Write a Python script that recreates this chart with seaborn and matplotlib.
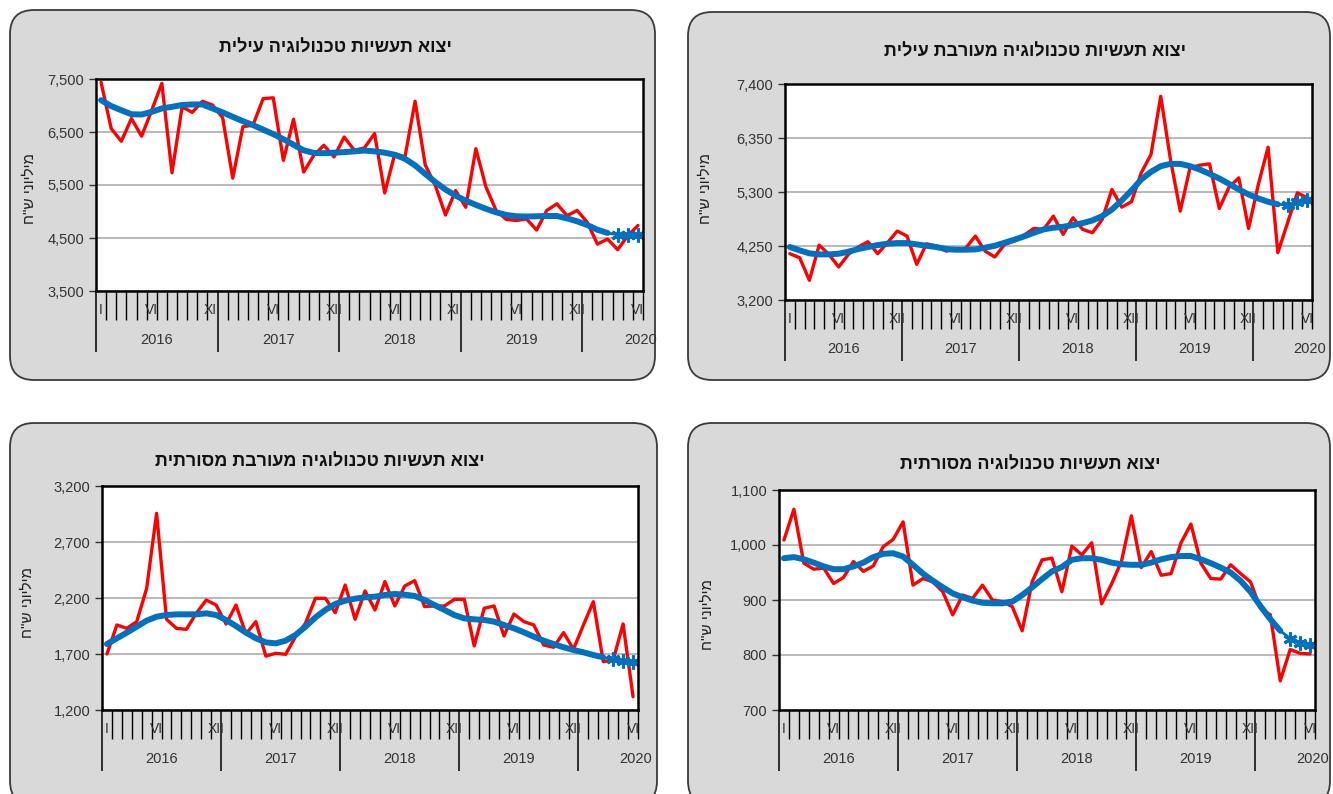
import numpy as np
import matplotlib
matplotlib.use("Agg")
import matplotlib.pyplot as plt
import seaborn as sns
from matplotlib.patches import FancyBboxPatch
from matplotlib.ticker import FuncFormatter

sns.set_style("white")
plt.rcParams['font.family'] = ['Liberation Sans', 'DejaVu Sans']

# ==========================================
# DATA (monthly, I-2016 .. VI-2020)
# ==========================================
months = np.arange(54)
year_labels = ['2016', '2017', '2018', '2019', '2020']
roman_pos = [0, 5, 11, 17, 23, 29, 35, 41, 47, 53]
roman_labels = ['I', 'VI', 'XII', 'VI', 'XII', 'VI', 'XII', 'VI', 'XII', 'VI']
ylabel_txt = 'מיליוני ש"ח'

# high tech
title_hi = 'יצוא תעשיות טכנולוגיה עילית'
hi_orig = [7437, 6565, 6325, 6755, 6420, 6910, 7418, 5730, 6975, 6870,
           7080, 7010, 6770, 5630, 6600, 6630, 7130, 7145, 5965, 6740,
           5745, 6060, 6250, 6030, 6405, 6155, 6200, 6470, 5350, 6090,
           6030, 7080, 5880, 5490, 4935, 5395, 5080, 6185, 5460, 5020,
           4850, 4830, 4860, 4650, 5020, 5145, 4920, 5020, 4795, 4385,
           4480, 4280, 4545, 4735]
hi_trend = [7100, 6990, 6910, 6835, 6830, 6880, 6945, 6975, 7010, 7020,
            7020, 6945, 6870, 6785, 6705, 6630, 6545, 6460, 6365, 6260,
            6155, 6105, 6100, 6110, 6120, 6135, 6150, 6135, 6110, 6070,
            5995, 5870, 5710, 5555, 5415, 5300, 5205, 5125, 5050, 4985,
            4935, 4910, 4905, 4910, 4915, 4915, 4870, 4815, 4745, 4655,
            4595]
hi_tail = [4560, 4555, 4565]

# medium-high tech
title_mh = 'יצוא תעשיות טכנולוגיה מעורבת עילית'
mh_orig = [4100, 4022, 3583, 4268, 4087, 3842, 4087, 4230, 4333, 4100,
           4314, 4540, 4443, 3893, 4294, 4249, 4152, 4184, 4204, 4443,
           4152, 4036, 4281, 4346, 4463, 4592, 4573, 4831, 4476, 4799,
           4573, 4508, 4767, 5349, 5006, 5110, 5673, 6028, 7161, 5931,
           4928, 5770, 5821, 5847, 4980, 5394, 5575, 4592, 5446, 6171,
           4120, 4702, 5284, 5187]
mh_trend = [4230, 4165, 4107, 4087, 4087, 4100, 4139, 4191, 4230, 4268,
            4294, 4307, 4307, 4281, 4255, 4230, 4191, 4178, 4178, 4184,
            4217, 4255, 4314, 4372, 4437, 4508, 4573, 4605, 4624, 4657,
            4695, 4747, 4831, 4960, 5135, 5329, 5543, 5692, 5802, 5847,
            5847, 5802, 5737, 5653, 5562, 5459, 5349, 5252, 5174, 5110,
            5060]
mh_tail = [5050, 5100, 5150]

# medium-low tech
title_ml = 'יצוא תעשיות טכנולוגיה מעורבת מסורתית'
ml_orig = [1700, 1959, 1929, 1989, 2286, 2956, 2010, 1929, 1920, 2063,
           2182, 2137, 1968, 2137, 1879, 1989, 1682, 1706, 1697, 1855,
           1974, 2197, 2197, 2069, 2316, 2010, 2263, 2093, 2346, 2129,
           2307, 2355, 2123, 2129, 2129, 2188, 2188, 1772, 2108, 2129,
           1861, 2057, 1989, 1959, 1780, 1760, 1891, 1742, 1959, 2167,
           1632, 1647, 1968, 1319]
ml_trend = [1789, 1840, 1891, 1944, 1998, 2033, 2048, 2054, 2054, 2054,
            2063, 2048, 2004, 1950, 1891, 1840, 1804, 1795, 1819, 1870,
            1944, 2027, 2093, 2147, 2176, 2194, 2206, 2212, 2227, 2236,
            2230, 2218, 2182, 2137, 2093, 2048, 2018, 2010, 2004, 1989,
            1959, 1929, 1894, 1855, 1819, 1789, 1760, 1736, 1715, 1691,
            1670]
ml_tail = [1655, 1638, 1632]

# low tech
title_lo = 'יצוא תעשיות טכנולוגיה מסורתית'
lo_orig = [1009, 1065, 967, 956, 958, 930, 941, 970, 952, 962,
           997, 1010, 1042, 927, 939, 933, 915, 873, 909, 903,
           927, 900, 897, 888, 844, 933, 973, 976, 915, 998,
           982, 1004, 893, 929, 970, 1053, 959, 988, 945, 948,
           1004, 1038, 967, 939, 938, 964, 948, 933, 885, 873,
           753, 810, 803, 802]
lo_trend = [976, 978, 974, 968, 961, 956, 956, 961, 968, 978,
            984, 985, 979, 964, 948, 935, 923, 912, 905, 899,
            895, 894, 894, 897, 909, 923, 938, 952, 960, 973,
            976, 976, 973, 968, 965, 964, 964, 968, 974, 978,
            980, 980, 974, 967, 959, 950, 935, 915, 889, 865,
            844]
lo_tail = [830, 821, 819]

# ==========================================
# FIGURE
# ==========================================
W, H = 1333, 794
fig = plt.figure(figsize=(W / 100, H / 100), dpi=100)
fig.patch.set_facecolor('white')

bg = fig.add_axes([0, 0, 1, 1], zorder=0)
bg.set_xlim(0, W)
bg.set_ylim(H, 0)
bg.axis('off')

RED = '#ff0000'
BLUE = '#0070c0'


def heb(s):
    # matplotlib has no bidi support -> visual order
    return s[::-1]


def draw_panel(box, area, title, title_xy, ylab_xy, orig, trend, tail, ylim, yticks):
    x0, y0, x1, y1 = box
    bg.add_patch(FancyBboxPatch((x0, y0), x1 - x0, y1 - y0,
                                boxstyle='round,pad=0,rounding_size=24',
                                fc='#d9d9d9', ec='#3a3a3a', lw=1.3))
    bg.text(title_xy[0], title_xy[1], heb(title), ha='center', va='center',
            fontsize=13, fontweight='bold', color='#111111')
    bg.text(ylab_xy[0], ylab_xy[1], heb(ylabel_txt), ha='center', va='center',
            rotation=90, fontsize=11, color='#222222')

    l, t, r, b = area
    ax = fig.add_axes([l / W, 1 - b / H, (r - l) / W, (b - t) / H], zorder=2)
    ax.set_facecolor('white')

    sns.lineplot(x=months, y=orig, ax=ax, color=RED, linewidth=2.4)
    sns.lineplot(x=months[:len(trend)], y=trend, ax=ax, color=BLUE,
                 linewidth=4.3, solid_capstyle='round')
    sns.lineplot(x=months[len(trend) - 1:], y=[trend[-1]] + tail, ax=ax,
                 color=BLUE, linewidth=2, marker=(6, 2, 0), markersize=10,
                 markeredgewidth=2.2, markeredgecolor=BLUE, markevery=[1, 2, 3])

    ax.set_xlim(-0.5, 53.5)
    ax.set_ylim(*ylim)
    ax.set_yticks(yticks)
    ax.yaxis.set_major_formatter(FuncFormatter(lambda v, p: f'{v:,.0f}'))
    ax.grid(axis='y', color='#a6a6a6', linewidth=1.1)
    ax.grid(axis='x', visible=False)
    ax.set_xlabel('')
    ax.set_ylabel('')

    ax.set_xticks([-0.5, 11.5, 23.5, 35.5, 47.5])
    ax.set_xticks(np.arange(-0.5, 54, 1), minor=True)
    ax.set_xticklabels([])
    ax.tick_params(axis='x', which='major', direction='out', length=44, width=1.1,
                   color='black', bottom=True)
    ax.tick_params(axis='x', which='minor', direction='out', length=21, width=1.0,
                   color='black', bottom=True)
    ax.tick_params(axis='y', direction='out', length=5, width=1, color='#333333',
                   labelsize=10.5, labelcolor='#333333', left=True)

    for sp in ax.spines.values():
        sp.set_color('black')
        sp.set_linewidth(1.8)

    for p, lab in zip(roman_pos, roman_labels):
        ax.annotate(lab, xy=(p, 0), xycoords=('data', 'axes fraction'),
                    xytext=(0, -14), textcoords='offset points',
                    ha='center', va='center', fontsize=10, color='#333333',
                    annotation_clip=False)
    year_pos = [5.5, 17.5, 29.5, 41.5, 53.3]
    for p, lab in zip(year_pos, year_labels):
        ax.annotate(lab, xy=(p, 0), xycoords=('data', 'axes fraction'),
                    xytext=(0, -35), textcoords='offset points',
                    ha='center', va='center', fontsize=10.5, color='#333333',
                    annotation_clip=False)
    return ax


draw_panel((10, 10, 655, 380), (96, 79, 643, 291), title_hi, (335, 48), (30, 188),
           hi_orig, hi_trend, hi_tail, (3500, 7500), [3500, 4500, 5500, 6500, 7500])

draw_panel((688, 12, 1330, 380), (785, 84, 1312, 300), title_mh, (1035, 52), (706, 188),
           mh_orig, mh_trend, mh_tail, (3200, 7400), [3200, 4250, 5300, 6350, 7400])

draw_panel((10, 423, 657, 805), (102, 486, 638, 710), title_ml, (320, 462), (28, 602),
           ml_orig, ml_trend, ml_tail, (1200, 3200), [1200, 1700, 2200, 2700, 3200])

draw_panel((688, 423, 1330, 805), (779, 490, 1315, 710), title_lo, (1030, 465), (708, 614),
           lo_orig, lo_trend, lo_tail, (700, 1100), [700, 800, 900, 1000, 1100])

plt.savefig('out.png', dpi=100)
